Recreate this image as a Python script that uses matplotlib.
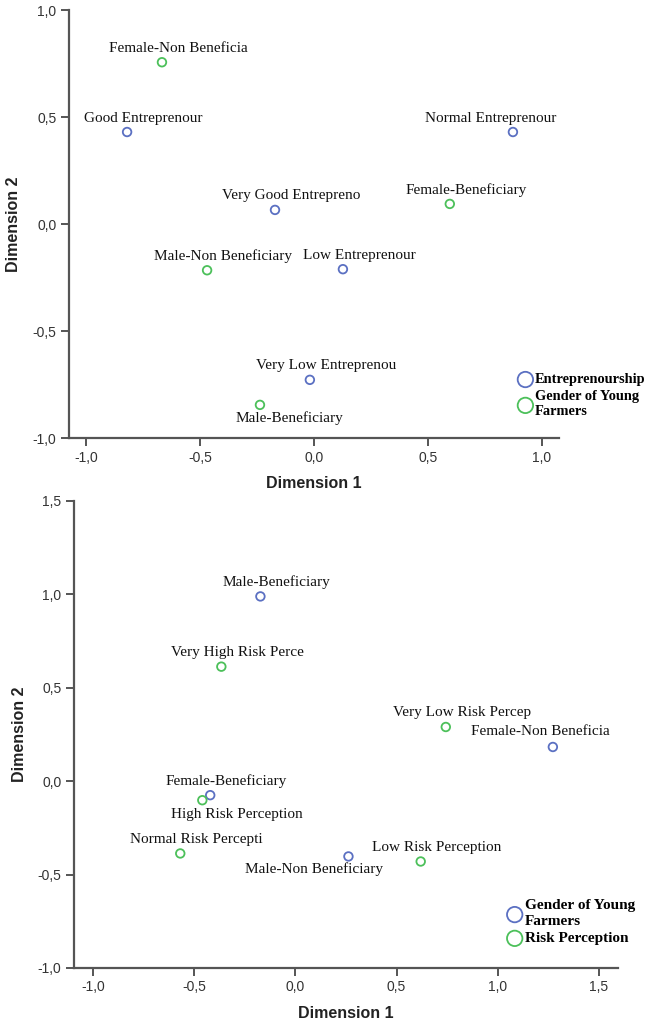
import matplotlib.pyplot as plt
from matplotlib.ticker import FuncFormatter

# ---- data: top plot (Entrepreneurship x Gender) ----
ent_labels = ['Good Entreprenour', 'Normal Entreprenour', 'Very Good Entrepreno',
              'Low Entreprenour', 'Very Low Entreprenou']
ent_x = [-0.82, 0.873, -0.171, 0.127, -0.018]
ent_y = [0.43, 0.43, 0.066, -0.211, -0.728]

gen1_labels = ['Female-Non Beneficia', 'Female-Beneficiary', 'Male-Non Beneficiary',
               'Male-Beneficiary']
gen1_x = [-0.667, 0.596, -0.469, -0.237]
gen1_y = [0.756, 0.094, -0.216, -0.845]

# ---- data: bottom plot (Gender x Risk perception) ----
gen2_labels = ['Male-Beneficiary', 'Female-Non Beneficia', 'Female-Beneficiary',
               'Male-Non Beneficiary']
gen2_x = [-0.173, 1.272, -0.421, 0.262]
gen2_y = [0.989, 0.183, -0.075, -0.403]

risk_labels = ['Very High Risk Perce', 'Very Low Risk Percep', 'High Risk Perception',
               'Normal Risk Percepti', 'Low Risk Perception']
risk_x = [-0.366, 0.743, -0.46, -0.569, 0.619]
risk_y = [0.613, 0.29, -0.102, -0.387, -0.43]

blue = '#5b70c2'
green = '#4cc05a'
serif = 'Liberation Serif'

# label placement (pixels from the point), default is above and a bit right
default_off = (16, 14)
top_off = {'Normal Entreprenour': (-22, 14), 'Male-Beneficiary': (29, -13)}
bot_off = {'High Risk Perception': (35, -14), 'Male-Non Beneficiary': (-34, -13),
           'Female-Non Beneficia': (-12, 15)}

comma = FuncFormatter(lambda v, p: ('%.1f' % v).replace('.', ','))


def style_axes(ax):
    for s in ['top', 'right']:
        ax.spines[s].set_visible(False)
    for s in ['left', 'bottom']:
        ax.spines[s].set_color('#555555')
        ax.spines[s].set_linewidth(1.6)
    ax.tick_params(direction='out', length=6, width=1.4, color='#555555',
                   labelsize=10, labelcolor='#333333', pad=3)
    for t in ax.get_xticklabels() + ax.get_yticklabels():
        t.set_family('Liberation Sans')
    ax.xaxis.set_major_formatter(comma)
    ax.yaxis.set_major_formatter(comma)
    ax.set_xlabel('Dimension 1', fontsize=11.5, fontweight='bold', color='#222222',
                  family='Liberation Sans', labelpad=8)
    ax.set_ylabel('Dimension 2', fontsize=11.5, fontweight='bold', color='#222222',
                  family='Liberation Sans', labelpad=8)


def plot_group(ax, xs, ys, labels, color, offs, name):
    ax.scatter(xs, ys, s=38, facecolors='none', edgecolors=color, linewidths=1.3,
               label=name, zorder=3)
    for x, y, t in zip(xs, ys, labels):
        off = offs.get(t, default_off)
        ax.annotate(t, (x, y), xytext=off, textcoords='offset pixels',
                    ha='center', va='center', fontsize=11, family=serif,
                    color='#111111')


def legend_style(size):
    return dict(loc='upper left', frameon=False, markerscale=1.8,
                handletextpad=0.05, handlelength=1.2, labelspacing=0.25,
                borderaxespad=0,
                prop={'family': serif, 'weight': 'bold', 'size': size})


fig = plt.figure(figsize=(6.52, 10.23), dpi=100)

# top chart
ax1 = fig.add_axes([0.1058, 0.5718, 0.7515, 0.4184])
plot_group(ax1, ent_x, ent_y, ent_labels, blue, top_off, 'Entreprenourship')
plot_group(ax1, gen1_x, gen1_y, gen1_labels, green, top_off, 'Gender of Young\nFarmers')
ax1.set_xlim(-1.075, 1.075)
ax1.set_ylim(-1.0, 1.0)
ax1.set_xticks([-1.0, -0.5, 0.0, 0.5, 1.0])
ax1.set_yticks([-1.0, -0.5, 0.0, 0.5, 1.0])
style_axes(ax1)
leg1 = ax1.legend(bbox_to_anchor=(0.902, 0.165), **legend_style(10.4))
for t in leg1.get_texts():
    t.set_linespacing(1.25)

# bottom chart
ax2 = fig.add_axes([0.1135, 0.0538, 0.8344, 0.4565])
plot_group(ax2, gen2_x, gen2_y, gen2_labels, blue, bot_off, 'Gender of Young\nFarmers')
plot_group(ax2, risk_x, risk_y, risk_labels, green, bot_off, 'Risk Perception')
ax2.set_xlim(-1.094, 1.594)
ax2.set_ylim(-1.0, 1.5)
ax2.set_xticks([-1.0, -0.5, 0.0, 0.5, 1.0, 1.5])
ax2.set_yticks([-1.0, -0.5, 0.0, 0.5, 1.0, 1.5])
style_axes(ax2)
leg2 = ax2.legend(bbox_to_anchor=(0.782, 0.16), **legend_style(11))
for t in leg2.get_texts():
    t.set_linespacing(1.25)

fig.savefig('out.png', dpi=100)
